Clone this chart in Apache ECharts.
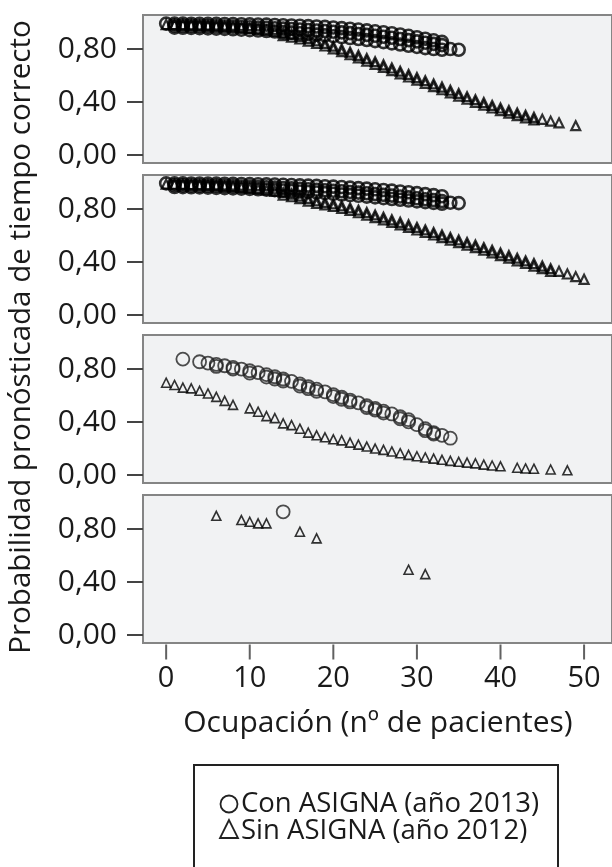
<!DOCTYPE html>
<html>
<head>
<meta charset="utf-8">
<script src="https://cdn.jsdelivr.net/npm/echarts@6/dist/echarts.min.js"></script>
<style>
html, body { margin: 0; padding: 0; background: #fff; }
#chart { width: 612px; height: 867px; }
</style>
</head>
<body>
<div id="chart"></div>
<script>
// tick labels
var xTicks = [0, 10, 20, 30, 40, 50];
var yTicks = [0, 0.4, 0.8];

var conName = 'Con ASIGNA (año 2013)';
var sinName = 'Sin ASIGNA (año 2012)';

// panel 1 - circles (rows of the band, upper from occupancy 0, others from 1) and triangles
var p1ConUpper = [.992,.992,.992,.991,.991,.990,.990,.989,.988,.987,.986,.985,.984,.982,.980,.978,.976,.973,.970,.967,.963,.958,.953,.947,.941,.934,.927,.919,.910,.900,.889,.878,.866,.854];
var p1ConMid = [.977,.976,.975,.974,.973,.972,.970,.968,.966,.964,.962,.960,.957,.954,.951,.948,.944,.940,.936,.931,.926,.920,.914,.907,.900,.893,.885,.876,.867,.858,.848,.839,.830];
var p1ConLower = [.962,.961,.960,.958,.956,.954,.952,.949,.946,.943,.940,.936,.932,.928,.924,.919,.914,.909,.903,.897,.890,.883,.876,.868,.860,.852,.843,.834,.825,.816,.807,.800,.795];
var p1ConEnd = [[34, .800], [35, .795]];
var p1Sin = [.985,.984,.983,.981,.979,.977,.974,.971,.967,.962,.956,.949,.941,.932,.922,.910,.896,.880,.862,.843,.822,.800,.777,.753,.729,.705,.681,.657,.633,.609,.585,.561,.537,.513,.489,.465,.441,.418,.396,.375,.355,.336,.318,.301,.285,.270,.256,.243,null,.222];
var p1Sin2 = [.902,.890,.876,.860,.842,.823,.802,.780,.757,.733,.709,.685,.661,.637,.613,.589,.565,.541,.517,.493,.469,.445,.421,.398,.376,.355,.335,.316,.298,.281,.265]; // from 14

// panel 2
var p2ConUpper = [.994,.994,.994,.993,.993,.992,.992,.991,.990,.989,.988,.987,.986,.985,.983,.981,.979,.977,.975,.972,.969,.966,.962,.958,.954,.949,.944,.939,.933,.927,.920,.913,.905,.897];
var p2ConMid = [.980,.979,.978,.977,.976,.975,.974,.972,.970,.968,.966,.964,.962,.959,.956,.953,.950,.946,.942,.938,.934,.929,.924,.919,.913,.907,.901,.895,.888,.881,.874,.867,.860];
var p2ConLower = [.966,.965,.964,.963,.962,.960,.958,.956,.954,.952,.949,.946,.943,.940,.937,.933,.929,.925,.920,.915,.910,.905,.900,.894,.888,.882,.876,.870,.864,.858,.852,.846,.840];
var p2ConEnd = [[34, .848], [35, .845]];
var p2Sin = [.988,.987,.986,.984,.982,.980,.977,.973,.969,.964,.958,.951,.943,.934,.924,.913,.898,.880,.862,.851,.840,.825,.809,.792,.774,.756,.738,.719,.700,.681,.662,.643,.624,.605,.586,.567,.548,.529,.509,.489,.469,.449,.429,.409,.389,.370,.350,.330,.310,.290,.270];
var p2Sin2 = [.904,.893,.878,.860,.842,.831,.820,.805,.789,.772,.754,.736,.718,.699,.680,.661,.642,.623,.604,.585,.566,.547,.528,.509,.489,.469,.449,.429,.409,.389,.369,.350,.330]; // from 14

// panel 3
var p3Con = [[2,.875],[4,.855],[5,.845],[6,.835],[7,.825],[8,.812],[9,.800],[10,.787],[11,.773],[12,.758],[13,.742],[14,.725],[15,.707],[16,.688],[17,.668],[18,.648],[19,.628],[20,.607],[21,.587],[22,.566],[23,.545],[24,.524],[25,.503],[26,.482],[27,.461],[28,.440],[29,.418],[30,.380],[31,.350],[32,.320],[33,.300],[34,.278]];
var p3Con2 = [[6,.820],[8,.800],[10,.770],[12,.740],[13,.725],[14,.710],[16,.672],[17,.652],[18,.632],[20,.592],[21,.572],[22,.552],[24,.510],[25,.490],[26,.468],[28,.425],[29,.402],[31,.335],[32,.310]];
var p3Sin = [[0,.697],[1,.680],[2,.660],[3,.654],[4,.636],[5,.616],[6,.590],[7,.560],[8,.530],[10,.503],[11,.478],[12,.445],[13,.430],[14,.390],[15,.377],[16,.350],[17,.320],[18,.300],[19,.285],[20,.270],[21,.262],[22,.245],[23,.230],[24,.215],[25,.200],[26,.190],[27,.178],[28,.165],[29,.152],[30,.142],[31,.133],[32,.124],[33,.115],[34,.107],[35,.100],[36,.094],[37,.088],[38,.079],[39,.072],[40,.066],[42,.055],[43,.050],[44,.048],[46,.042],[48,.036]];

// panel 4
var p4Con = [[14, .930]];
var p4Sin = [[6,.900],[9,.868],[10,.855],[11,.843],[12,.843],[16,.780],[18,.730],[29,.493],[31,.460]];

// [occupancy, probability] pairs from a list that starts at a given occupancy
function fromX(start, arr) {
    var out = [];
    for (var i = 0; i < arr.length; i++) {
        if (arr[i] !== null) out.push([start + i, arr[i]]);
    }
    return out;
}

var panels = [
    { con: fromX(0, p1ConUpper).concat(fromX(1, p1ConMid), fromX(1, p1ConLower), p1ConEnd), sin: fromX(0, p1Sin).concat(fromX(14, p1Sin2)) },
    { con: fromX(0, p2ConUpper).concat(fromX(1, p2ConMid), fromX(1, p2ConLower), p2ConEnd), sin: fromX(0, p2Sin).concat(fromX(14, p2Sin2)) },
    { con: p3Con.concat(p3Con2), sin: p3Sin },
    { con: p4Con, sin: p4Sin }
];

var FONT = '"Open Sans", sans-serif';
var X_MIN = -2.77, X_MAX = 53.34, Y_MIN = -0.06, Y_MAX = 1.057;
var grids = [], xAxes = [], yAxes = [], series = [];

for (var i = 0; i < panels.length; i++) {
    var last = i === panels.length - 1;
    var dense = i < 2;
    grids.push({
        left: 143, width: 472, top: 15 + 160 * i, height: 148,
        show: true, backgroundColor: '#f1f2f3',
        borderColor: '#858585', borderWidth: 2
    });
    xAxes.push({
        type: 'value', gridIndex: i, min: X_MIN, max: X_MAX, position: 'bottom',
        splitLine: { show: false },
        axisLine: { show: false, onZero: false },
        axisTick: { show: false },
        axisLabel: { show: last, customValues: xTicks, margin: 21, fontSize: 29, fontFamily: FONT, color: '#1a1a1a' }
    });
    yAxes.push({
        type: 'value', gridIndex: i, min: Y_MIN, max: Y_MAX, position: 'left',
        splitLine: { show: false },
        axisLine: { show: false, onZero: false },
        axisTick: { show: true, inside: false, customValues: yTicks, length: 16, lineStyle: { color: '#444', width: 2 } },
        axisLabel: {
            customValues: yTicks, margin: 26, fontSize: 30, fontFamily: FONT, color: '#1a1a1a',
            formatter: function (v) { return v.toFixed(2).replace('.', ','); }
        }
    });
    series.push({
        name: conName, type: 'scatter', xAxisIndex: i, yAxisIndex: i,
        symbol: 'circle', symbolSize: dense ? 12 : 13,
        itemStyle: { color: 'rgba(0,0,0,0)', borderColor: dense ? '#000' : '#222', borderWidth: dense ? 2.6 : 1.8 },
        data: panels[i].con
    });
    series.push({
        name: sinName, type: 'scatter', xAxisIndex: i, yAxisIndex: i,
        symbol: 'triangle', symbolSize: 9,
        itemStyle: { color: 'rgba(0,0,0,0)', borderColor: '#000', borderWidth: dense ? 2.2 : 1.6 },
        data: panels[i].sin
    });
}

// x tick marks hanging below the bottom panel, placed on the axis scale at y = axis minimum
var lastIdx = panels.length - 1;
series.push({
    type: 'scatter', xAxisIndex: lastIdx, yAxisIndex: lastIdx,
    clip: false, silent: true, z: 10,
    symbol: 'rect', symbolSize: [2, 15], symbolOffset: [0, 9],
    itemStyle: { color: '#3a3a3a' },
    data: xTicks.map(function (v) { return [v, Y_MIN]; })
});

var chart = echarts.init(document.getElementById('chart'), null, { renderer: 'canvas' });
chart.setOption({
    backgroundColor: '#ffffff',
    animation: false,
    grid: grids,
    xAxis: xAxes,
    yAxis: yAxes,
    series: series,
    graphic: [
        {
            type: 'text', x: 22, y: 337, rotation: Math.PI / 2,
            style: { text: 'Probabilidad pronósticada de tiempo correcto', font: '29.5px ' + FONT, fill: '#1a1a1a', align: 'center', verticalAlign: 'middle' }
        },
        {
            type: 'text', x: 378, y: 723,
            style: { text: 'Ocupación (nº de pacientes)', font: '30px ' + FONT, fill: '#1a1a1a', align: 'center', verticalAlign: 'middle' }
        },
        {
            type: 'rect', shape: { x: 194, y: 765, width: 364, height: 130 },
            style: { fill: 'none', stroke: '#222', lineWidth: 2 }
        },
        {
            type: 'circle', shape: { cx: 229, cy: 804, r: 8.5 },
            style: { fill: 'none', stroke: '#222', lineWidth: 1.8 }
        },
        {
            type: 'polygon', shape: { points: [[229, 820], [220, 838], [238, 838]] },
            style: { fill: 'none', stroke: '#222', lineWidth: 1.8 }
        },
        {
            type: 'text', x: 241, y: 804,
            style: { text: conName, font: '27.5px ' + FONT, fill: '#1a1a1a', align: 'left', verticalAlign: 'middle' }
        },
        {
            type: 'text', x: 241, y: 831,
            style: { text: sinName, font: '27.5px ' + FONT, fill: '#1a1a1a', align: 'left', verticalAlign: 'middle' }
        }
    ]
});
</script>
</body>
</html>
